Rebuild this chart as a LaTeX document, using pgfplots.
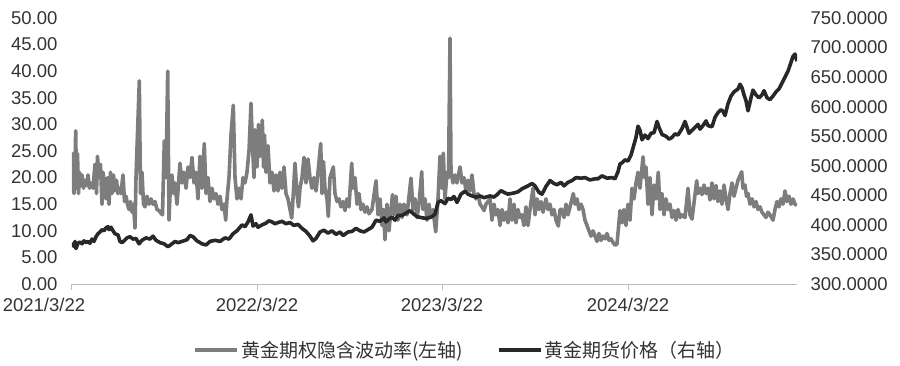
\documentclass[border=0pt]{standalone}
\usepackage{pgfplots}
\pgfplotsset{compat=1.18}
\usepackage{fontspec}
\setmainfont{Liberation Sans}
\newfontfamily\cjk{Noto Sans CJK SC}
\definecolor{volc}{RGB}{125,125,125}
\definecolor{goldc}{RGB}{40,40,40}
\definecolor{axc}{RGB}{190,190,190}

\pgfplotstableread{
x y
0 17.5
1 24.5
2 17
3 22
3.7 28.8
4.5 18
5.5 24.5
6.5 17
7.5 21
9 18.5
10 20.5
11.5 18
13 19.5
14.5 18.5
16 20.5
17.5 18
19 19
21 18
23 22.5
24.5 17
25.5 24
27 20
28.5 22.5
30 15
31 21
32.5 19
34 16
35.5 20
37 15
38.5 21
40 17
41.5 20.5
43 17.5
44.5 19.5
46 17
47.5 18
49 17
51 20.5
52.5 15.5
54 16.5
55.5 15
57 14
58.5 15.5
60 13.5
61.5 15
63 10.5
64 20
65 25.5
67.3 38.2
68.5 17
70 21
71.5 15
73 14.5
75 16.5
77 15
79 16
81 15
83 15.5
85 14
87 13.8
89 13.3
90.5 13
92.3 26.9
94 20
95.7 40
97 12
98.5 19
100 20.5
101.5 17
103 19
105 15
108 22.7
110 19
112 21
114 18
116 22
118 20
120 23.8
122 19
124 21
126 16
128 24
130 18
132.3 26.4
134 17
136 20
138 15.5
140 18
142 16
144 17
146 15
148 16.5
150 14
152 15
153.7 12
155 16
157 20
159 28
161.3 33.6
163 20
165 16
167 18
169 16
171 20
173 19
175 21
177 25
179 34
180.5 26
182 20
183 29
185 22
186.5 30
188 24
190.3 30.8
191.5 22
192.5 28
194 21
196 26
198 19
200 21
202 17.5
204 20.5
206 17.5
208 21
210 18
212 22
214 17
216 16
218 14
219.7 12.4
221 16
223 22.7
225 17
226.5 14.5
228 18
230 20
232 23.8
234 19
236 23.5
238 20
240 18
242 20
244 17.5
245.5 20
248.7 26.4
250 17
251.5 23
253 18
255 16
256.3 12.7
258 20
261.3 22
263 17
265 15.5
267 16
269 14.5
271 15.5
273 13.8
275 16
277 14.5
279.7 22.7
281 18
283 20
285 15
287 17
289 14
291 15
293 13.5
295 14.5
297 13.2
300 14
304 19.4
306 13
308 16
310 11
311.5 14
313 8.3
315 15
317 10
319 14
320.5 16.8
322 13
324 16.5
326 12
328 15
330 12.5
332 15
335 13
339 19.9
341 14
343 16
345 12.5
347 15
349.7 21.1
351 14
353 16
355 12
357 15
359 12.5
361 14
363.7 9.8
366 16
368 24
370 18
371.3 24.6
373 16
375 21
376.5 20
378 46.2
379 21
381 19
383 20.5
385 19
388 22
390 19
392 20
394 17.5
396 19.5
398 17.5
400 20.5
402 17
404 16
406 17
408 15
410 14.5
412 13.8
414 15
418 16
420 12
422 15
424 13
426 14
428 11
430 14
432 12
434 13.5
436 11.5
438 16
440 12
442 15
444 11.5
446 14
448 12.5
450 13
452 11
454 14.5
456 11
458 14
461 18
463 13
465 16
467 14
469 15.5
471 13.5
474 16
476 14
478 15
480 13
482 14
484 12
486.3 10.9
488 14
490 14
492 12.5
494 15
496 13
498 14.5
501.3 17
503 15
505 16
507 14
509 15
511 14
513 12
515 11
517 10
519 9
521 10
523 9
525 8
527 9.5
529 8.2
531 9
533 8.5
535 9.5
537 8.2
539 8.5
541 7.8
543 7.3
545 7.5
548 13.8
550 11.5
552 14
554 11
556 15
558 12
560 18
562 16
564 19
566 21
568 18
571 23.9
572.5 20
574 22
576 15
578 20
580 13
582 18.6
584 16
586.3 21
588 14
590 17
592 13
594 16
596 14
598 15
600 12.5
602 13.8
604 12
606 14
608 12.5
610 13
613 12.5
616 18
618 13
620 12.2
624.7 19.4
626 17
628 18
630 16.8
632 18.6
634 17
636 18
638 15.8
640 19
642 16
644 18.5
646 15.5
648 17.5
650 15
652 18.6
654 16
656 14
658 17
660 19
662 16.5
664 18
666 19.5
669.7 21.1
671 18
673 18.6
674.5 16.5
676 17
678 15
680 16
682 14.5
684 15.5
686 14
688 14.5
690 13.5
692 13
694 12.5
696 13.5
698 13
701 12
703 14
705 15.5
707 14.5
709 16
711 15
713 17.5
715 15.5
717 16.5
719 15
721 16
723 15
725 14.8
}\voldata

\pgfplotstableread{
x y
0 370
1.5 364
3 372
4 360
6 369
8 371
10 368
12 373
14 370
16 372
18 369
20 376
22 372
24 380
26 385
28 388
30 392
32 390
34 395
36 397
37 392
39 396
41 390
43 385
46 383
48 372
50 370
52 373
55 378
58 380
61 376
64 377
67 368
70 374
74 378
78 376
81 381
84 374
88 370
92 368
96 363
100 368
103 372
106 370
110 372
115 375
118 382
121 380
125 373
130 368
134 366
138 372
143 374
148 372
153 378
157 376
161 385
165 390
170 400
173 397
176 405
179 417
181 398
184 402
186 396
190 400
194 403
197 407
200 405
203 402
206 404
210 406
214 402
218 404
222 399
226 401
230 394
234 389
238 381
241 373
244 377
248 388
252 391
256 386
260 390
264 384
268 388
271 382
276 388
280 389
284 394
288 390
292 388
296 392
300 396
304 408
308 406
312 412
314 405
317 410
320 413
323 408
326 416
330 416
334 420
338 424
342 418
345 414
350 412
355 411
360 414
363 418
366 438
369 441
373 436
376 445
379 443
382 448
385 438
389 452
393 457
396 452
400 449
404 447
408 449
412 446
418 449
422 447
425 451
429 458
432 455
436 452
442 454
446 456
450 461
456 466
460 470
463 466
467 455
470 452
474 465
478 475
482 470
485 468
489 472
492 466
496 472
500 475
504 480
509 479
513 480
518 476
523 478
526 478
530 483
535 479
540 480
543 478
546 490
548 503
550 505
553 510
556 508
559 518
561 530
564 548
566 567
568 560
570 544
573 552
576 546
579 555
582 556
585 575
587 565
590 553
594 550
597 545
600 548
603 554
606 552
610 563
613 575
615 565
617 555
620 560
623 565
626 570
628 562
631 568
634 576
636 568
640 566
643 582
646 590
649 595
651 592
653 585
656 605
659 618
662 625
666 630
668 638
670 632
672 620
674 610
676 593
679 615
681 628
684 620
687 615
690 620
692 627
695 615
698 612
701 618
704 625
707 630
710 640
713 650
716 660
719 675
721 685
723 689
725 677
}\golddata

\pgfplotsset{
  every tick label/.append style={font=\fontsize{18.5}{22}\selectfont, text=black!80},
  legend image code/.code={\draw[#1] (0pt,0pt) -- (42pt,0pt);},
}

\begin{document}
\begin{tikzpicture}
\begin{axis}[
  scale only axis, width=725pt, height=266pt,
  xmin=0, xmax=725, ymin=0, ymax=50,
  axis x line*=bottom, axis y line*=left,
  x axis line style={draw=axc, line width=1pt},
  y axis line style={draw=none},
  ytick={0,5,...,50}, ytick style={draw=none},
  xtick={0,185,370,556},
  xticklabels={{2021/3/22\hspace*{56pt}},2022/3/22,2023/3/22,2024/3/22},
  xtick style={draw=axc, line width=1pt},
  tick align=outside, major tick length=6pt,
  yticklabel style={xshift=-5pt},
  xticklabel style={yshift=-5pt},
  /pgf/number format/.cd, fixed, fixed zerofill, precision=2, assume math mode=true,
]
\addplot[volc, line width=3.6pt, line join=round, no markers] table[x=x,y=y] {\voldata};
\end{axis}
\begin{axis}[
  scale only axis, width=725pt, height=266pt,
  xmin=0, xmax=725, ymin=300, ymax=750,
  axis x line=none, axis y line*=right,
  y axis line style={draw=none},
  ytick={300,350,...,750}, ytick style={draw=none},
  tick align=outside, major tick length=6pt,
  yticklabel style={xshift=4pt},
  /pgf/number format/.cd, fixed, fixed zerofill, precision=4, assume math mode=true, 1000 sep={},
  /pgfplots/.cd,
  legend style={at={(0.542,-0.248)}, anchor=center, draw=none, fill=none,
    font=\cjk\fontsize{19}{23}\selectfont, text=black!80,
    legend columns=2, /tikz/every even column/.append style={column sep=32pt}},
]
\addlegendimage{volc, line width=3.6pt}
\addlegendentry{黄金期权隐含波动率(左轴)}
\addplot[goldc, line width=3.6pt, line join=round, no markers] table[x=x,y=y] {\golddata};
\addlegendentry{黄金期货价格（右轴）}
\end{axis}
\pgfresetboundingbox
\path[use as bounding box] (-72pt,-81pt) rectangle (828pt,284pt);
\end{tikzpicture}
\end{document}
